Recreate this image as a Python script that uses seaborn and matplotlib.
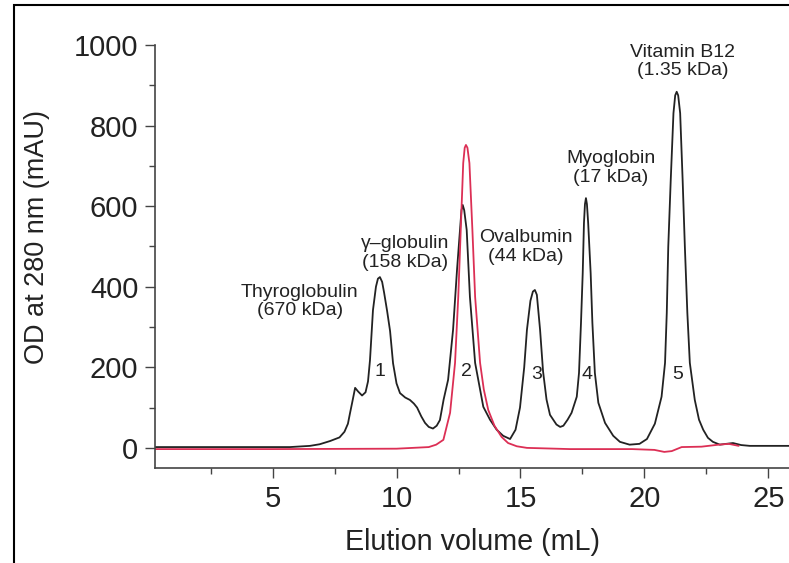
import pandas as pd
import seaborn as sns
import numpy as np
import matplotlib.pyplot as plt
from matplotlib.patches import Rectangle
from matplotlib.ticker import MultipleLocator

# black trace: protein standards
std_x = [0.26, 3.0, 5.7, 6.51, 6.9, 7.32, 7.7, 7.9, 8.04, 8.12, 8.21, 8.33, 8.45, 8.61,
         8.75, 8.85, 8.93, 9.05, 9.17, 9.25, 9.33, 9.42, 9.5, 9.62, 9.74, 9.86, 10.0,
         10.14, 10.35, 10.54, 10.7, 10.83, 11.0, 11.15, 11.3, 11.47, 11.62, 11.75, 11.9,
         12.08, 12.28, 12.44, 12.56, 12.62, 12.67, 12.73, 12.83, 12.96, 13.17, 13.5,
         13.77, 14.04, 14.3, 14.58, 14.8, 14.98, 15.15, 15.26, 15.4, 15.5, 15.58, 15.66,
         15.79, 15.91, 16.05, 16.19, 16.45, 16.6, 16.73, 16.9, 17.06, 17.27, 17.36,
         17.44, 17.51, 17.56, 17.6, 17.64, 17.68, 17.73, 17.83, 17.9, 18.0, 18.14,
         18.41, 18.74, 19.01, 19.4, 19.8, 20.1, 20.42, 20.69, 20.83, 20.9, 20.96, 21.06,
         21.17, 21.24, 21.3, 21.36, 21.44, 21.54, 21.63, 21.73, 21.83, 22.03, 22.2,
         22.37, 22.56, 22.76, 23.04, 23.3, 23.57, 23.9, 24.25, 25.83]
std_y = [2, 2, 2, 5, 9, 17, 26, 40, 60, 85, 112, 149, 140, 130,
         138, 165, 218, 342, 400, 420, 424, 412, 385, 340, 290, 210, 160,
         136, 125, 119, 110, 100, 78, 62, 52, 48, 55, 69, 120,
         169, 293, 442, 541, 590, 603, 590, 541, 375, 211, 102,
         70, 45, 30, 22, 45, 100, 200, 293, 365, 388, 392, 380,
         293, 190, 120, 82, 58, 52, 55, 70, 87, 127, 186,
         310, 434, 558, 605, 620, 605, 558, 434, 310, 186, 112,
         62, 30, 15, 8, 10, 22, 60, 127, 211, 335, 499, 665,
         831, 875, 884, 875, 831, 665, 499, 335, 211, 119, 70,
         45, 25, 15, 8, 10, 12, 7, 5, 5]

# red trace: sample
smp_x = [0.26, 5.0, 10.0, 11.3, 11.6, 11.89, 12.16, 12.36, 12.49, 12.59, 12.69, 12.75,
         12.8, 12.86, 12.94, 13.06, 13.17, 13.37, 13.52, 13.7, 13.95, 14.24, 14.5,
         14.85, 15.26, 17.0, 19.5, 20.4, 20.8, 21.1, 21.5, 22.3, 23.0, 23.4, 23.8]
smp_y = [-3, -3, -2, 2, 8, 20, 87, 211, 375, 541, 707, 745,
         752, 745, 707, 541, 375, 211, 145, 94, 55, 27, 12,
         4, 0, -3, -3, -5, -10, -8, 2, 3, 8, 10, 5]

peak_names = ['Thyroglobulin\n(670 kDa)', '\u03b3\u2013globulin\n(158 kDa)',
              'Ovalbumin\n(44 kDa)', 'Myoglobin\n(17 kDa)', 'Vitamin B12\n(1.35 kDa)']
name_x = [6.1, 10.34, 15.2, 18.65, 21.55]
name_y = [364, 484, 499, 695, 960]
peak_num = ['1', '2', '3', '4', '5']
num_x = [9.33, 12.8, 15.66, 17.68, 21.35]
num_y = [189, 189, 181, 181, 181]

sns.set_theme(style='ticks')
plt.rcParams['font.family'] = ['Liberation Sans', 'DejaVu Sans']
ink = '#222222'

fig = plt.figure(figsize=(7.89, 5.63), dpi=100)
ax = fig.add_axes([0.1965, 0.1687, 0.8035, 0.7513])

std = pd.DataFrame({'x': std_x, 'y': std_y})
smp = pd.DataFrame({'x': smp_x, 'y': smp_y})
sns.lineplot(data=std, x='x', y='y', color=ink, lw=1.3, ax=ax)
sns.lineplot(data=smp, x='x', y='y', color='#dc2f55', lw=1.3, ax=ax)

for t, x, y in zip(peak_names, name_x, name_y):
    ax.text(x, y, t, ha='center', va='center', fontsize=14, color=ink, linespacing=1.1)
for t, x, y in zip(peak_num, num_x, num_y):
    ax.text(x, y, t, ha='center', va='center', fontsize=14, color=ink)

ax.set_xlim(0.26, 25.83)
ax.set_ylim(-50, 1000)
ax.xaxis.set_major_locator(MultipleLocator(5))
ax.xaxis.set_minor_locator(MultipleLocator(2.5))
ax.yaxis.set_major_locator(MultipleLocator(200))
ax.yaxis.set_minor_locator(MultipleLocator(100))
ax.tick_params(which='major', direction='out', length=7, width=1, color='#444444',
               labelsize=21, labelcolor=ink, pad=5)
ax.tick_params(which='minor', direction='out', length=4, width=1, color='#444444')
ax.set_xticks([5, 10, 15, 20, 25])

sns.despine(ax=ax)
for s in ['left', 'bottom']:
    ax.spines[s].set_color('#444444')
    ax.spines[s].set_linewidth(1.2)

ax.set_xlabel('Elution volume (mL)', fontsize=20.7, color=ink)
ax.set_ylabel('OD at 280 nm (mAU)', fontsize=19.5, color=ink)
ax.xaxis.set_label_coords(0.5, -0.142)
ax.xaxis.label.set_va('top')
ax.yaxis.set_label_coords(-0.165, 0.545)

fig.patches.append(Rectangle((0.0177, -0.02), 1.2, 1.011, transform=fig.transFigure,
                             fill=False, edgecolor='black', lw=1.5))

fig.savefig('out.png', dpi=100)
